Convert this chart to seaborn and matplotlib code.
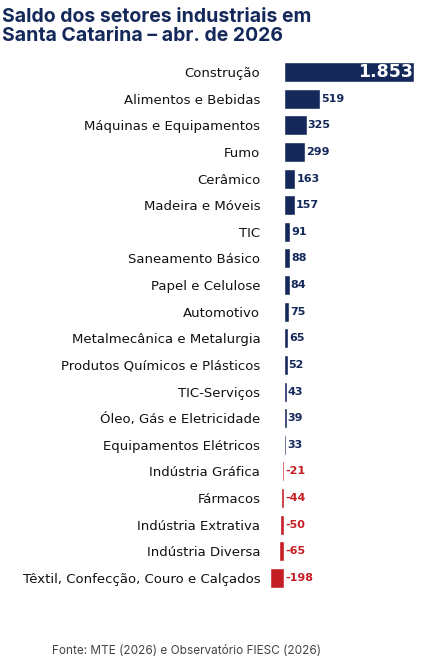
import pandas as pd
import matplotlib
matplotlib.use("Agg")
import matplotlib.pyplot as plt
import seaborn as sns

sectors = ["Construção", "Alimentos e Bebidas", "Máquinas e Equipamentos", "Fumo",
           "Cerâmico", "Madeira e Móveis", "TIC", "Saneamento Básico",
           "Papel e Celulose", "Automotivo", "Metalmecânica e Metalurgia",
           "Produtos Químicos e Plásticos", "TIC-Serviços", "Óleo, Gás e Eletricidade",
           "Equipamentos Elétricos", "Indústria Gráfica", "Fármacos",
           "Indústria Extrativa", "Indústria Diversa",
           "Têxtil, Confecção, Couro e Calçados"]
saldo = [1853, 519, 325, 299, 163, 157, 91, 88, 84, 75, 65, 52, 43, 39, 33,
         -21, -44, -50, -65, -198]

NAVY = "#14285a"
RED = "#c41e24"

df = pd.DataFrame({"setor": sectors, "saldo": saldo})
df["cor"] = [NAVY if v > 0 else RED for v in saldo]

sns.set_style("white")
plt.rcParams["font.family"] = ["DejaVu Sans"]

fig = plt.figure(figsize=(4.24, 6.62), dpi=100)
ax = fig.add_axes([270 / 424, 0.1068, 144 / 424, 0.8045])
sns.barplot(data=df, y="setor", x="saldo", hue="setor", palette=list(df["cor"]),
            legend=False, width=0.75, saturation=1, ax=ax, orient="h")
ax.set_xlim(-198, 1853)
ax.set_ylim(len(sectors) - 0.5, -0.5)
ax.set_xlabel("")
ax.set_ylabel("")
ax.set_xticks([])
for s in ax.spines.values():
    s.set_visible(False)
ax.tick_params(axis="y", length=3, color="#555555", labelsize=9.5, pad=4,
               labelcolor="#111111")

for i, v in enumerate(saldo):
    if v == max(saldo):
        ax.text(v - 20, i, f"{v:,}".replace(",", "."), color="white", fontsize=12.5,
                fontweight="bold", ha="right", va="center")
    elif v > 0:
        ax.text(v + 15, i, str(v), color=NAVY, fontsize=8, fontweight="bold",
                ha="left", va="center")
    else:
        ax.text(15, i, str(v), color=RED, fontsize=8, fontweight="bold",
                ha="left", va="center")

fig.text(0.005, 0.988, "Saldo dos setores industriais em\nSanta Catarina – abr. de 2026",
         color=NAVY, fontsize=14, fontweight="bold", ha="left", va="top",
         linespacing=1.1, family=["Inter", "DejaVu Sans"])
fig.text(0.44, 0.016, "Fonte: MTE (2026) e Observatório FIESC (2026)",
         color="#444444", fontsize=8.5, ha="center", va="center",
         family=["Inter", "DejaVu Sans"])

fig.savefig("out.png", dpi=100)
